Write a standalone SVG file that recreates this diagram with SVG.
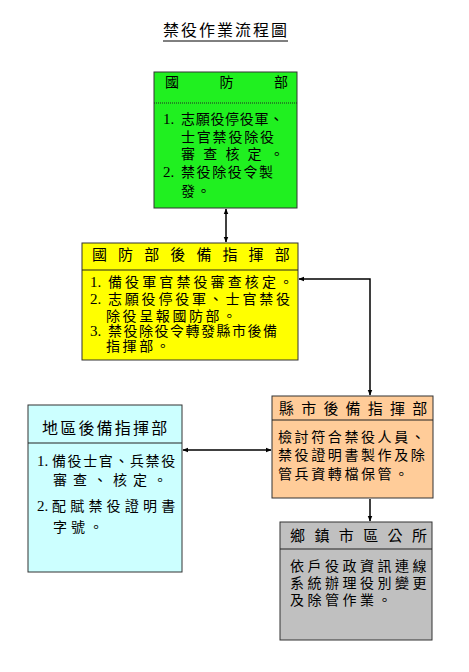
<svg xmlns="http://www.w3.org/2000/svg" width="469" height="672" viewBox="0 0 469 672">
<style>
  text { font-family: "Noto Sans CJK TC", "Noto Sans CJK SC", sans-serif; fill: #000; }
  .t14 { font-size: 14px; }
  .t15 { font-size: 15px; }
  .t16 { font-size: 16px; }
  .num { font-family: "Liberation Serif", "Noto Sans CJK TC", serif; font-size: 15px; }
  .box { stroke: #333; stroke-width: 1; }
  .div { stroke: #222; stroke-width: 1; }
  .conn { fill: none; stroke: #000; stroke-width: 1.5; }
</style>
<defs>
  <marker id="ah" viewBox="0 0 10 10" refX="9" refY="5" markerWidth="6" markerHeight="6" orient="auto-start-reverse" markerUnits="userSpaceOnUse">
    <path d="M0,1 L10,5 L0,9 Z" fill="#000"/>
  </marker>
</defs>
<rect width="469" height="672" fill="#fff"/>

<g id="title">
  <text class="t16" x="163" y="36" letter-spacing="2">禁役作業流程圖</text>
  <line x1="163" y1="41" x2="288" y2="41" stroke="#000" stroke-width="1"/>
</g>

<g id="node-mnd">
  <rect class="box" x="154" y="72" width="143" height="136" fill="#20f020"/>
  <line class="div" x1="154" y1="103" x2="297" y2="103" stroke-dasharray="1,1"/>
  <text class="t14" x="165" y="87" letter-spacing="40.5">國防部</text>
  <text class="t14">
    <tspan class="num" x="163" y="124">1.</tspan>
    <tspan x="181" y="124" letter-spacing="0.7">志願役停役軍、</tspan>
    <tspan x="181" y="142" letter-spacing="1.8">士官禁役除役</tspan>
    <tspan x="181" y="159" letter-spacing="8.2">審查核定。</tspan>
    <tspan class="num" x="163" y="177">2.</tspan>
    <tspan x="181" y="177" letter-spacing="1.6">禁役除役令製</tspan>
    <tspan x="181" y="196" letter-spacing="1.6">發。</tspan>
  </text>
</g>

<g id="node-reserve-hq">
  <rect class="box" x="82" y="243" width="216" height="117" fill="#ffff00"/>
  <line class="div" x1="82" y1="270" x2="298" y2="270"/>
  <text class="t15" x="92" y="260" letter-spacing="11.1">國防部後備指揮部</text>
  <text class="t14">
    <tspan class="num" x="90" y="287">1.</tspan>
    <tspan x="108" y="287" letter-spacing="3.1">備役軍官禁役審查核定。</tspan>
    <tspan class="num" x="90" y="304">2.</tspan>
    <tspan x="108" y="304" letter-spacing="2.8">志願役停役軍、士官禁役</tspan>
    <tspan x="106" y="321" letter-spacing="2.6">除役呈報國防部。</tspan>
    <tspan class="num" x="90" y="336">3.</tspan>
    <tspan x="108" y="336" letter-spacing="1.5">禁役除役令轉發縣市後備</tspan>
    <tspan x="106" y="351" letter-spacing="2.6">指揮部。</tspan>
  </text>
</g>

<g id="node-regional">
  <rect class="box" x="28" y="405" width="154" height="167" fill="#ccffff"/>
  <line class="div" x1="28" y1="443" x2="182" y2="443"/>
  <text class="t16" x="42" y="434" letter-spacing="2.2">地區後備指揮部</text>
  <text class="t14">
    <tspan class="num" x="37" y="466">1.</tspan>
    <tspan x="52" y="466" letter-spacing="1.6">備役士官、兵禁役</tspan>
    <tspan x="53" y="485" letter-spacing="6">審查、核定。</tspan>
    <tspan class="num" x="37" y="511">2.</tspan>
    <tspan x="52" y="511" letter-spacing="4.2">配賦禁役證明書</tspan>
    <tspan x="53" y="532" letter-spacing="4">字號。</tspan>
  </text>
</g>

<g id="node-county">
  <rect class="box" x="272" y="396" width="161" height="102" fill="#ffcc99"/>
  <line class="div" x1="272" y1="420" x2="433" y2="420"/>
  <text class="t15" x="279" y="414" letter-spacing="7.2">縣市後備指揮部</text>
  <text class="t14" letter-spacing="2.6">
    <tspan x="278" y="442">檢討符合禁役人員、</tspan>
    <tspan x="278" y="460">禁役證明書製作及除</tspan>
    <tspan x="278" y="479">管兵資轉檔保管。</tspan>
  </text>
</g>

<g id="node-township">
  <rect class="box" x="280" y="522" width="152" height="118" fill="#c0c0c0"/>
  <line class="div" x1="280" y1="549" x2="432" y2="549"/>
  <text class="t15" x="290" y="541" letter-spacing="9.4">鄉鎮市區公所</text>
  <text class="t14" letter-spacing="3.5">
    <tspan x="290" y="571">依戶役政資訊連線</tspan>
    <tspan x="290" y="588">系統辦理役別變更</tspan>
    <tspan x="290" y="605">及除管作業。</tspan>
  </text>
</g>

<g id="connectors">
  <line class="conn" x1="226" y1="209" x2="226" y2="242" marker-start="url(#ah)" marker-end="url(#ah)"/>
  <polyline class="conn" points="370,395 370,279 299,279" marker-start="url(#ah)" marker-end="url(#ah)"/>
  <line class="conn" x1="183" y1="450" x2="271" y2="450" marker-start="url(#ah)" marker-end="url(#ah)"/>
  <line class="conn" x1="370" y1="499" x2="370" y2="521" marker-end="url(#ah)"/>
</g>
</svg>
